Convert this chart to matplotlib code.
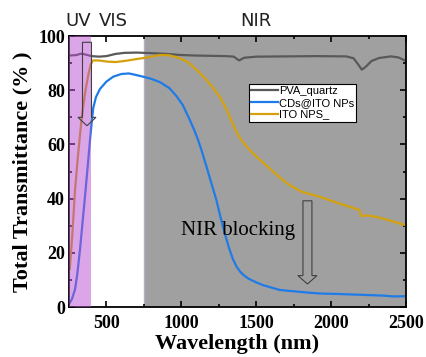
import matplotlib
matplotlib.use("Agg")
import matplotlib.pyplot as plt
from matplotlib.patches import FancyArrow
from matplotlib.ticker import MultipleLocator

# PVA_quartz
pva_wl = [250, 300, 330, 360, 400, 450, 500, 560, 620, 700, 800, 900, 1000, 1100,
          1200, 1300, 1350, 1385, 1420, 1500, 1700, 1900, 2100, 2150, 2180, 2205,
          2230, 2270, 2320, 2400, 2450, 2500]
pva_t = [92.8, 93.0, 93.5, 93.2, 92.6, 92.4, 92.6, 93.4, 93.8, 93.9, 93.7, 93.4, 93.0,
         92.8, 92.7, 92.6, 92.4, 91.0, 92.0, 92.4, 92.5, 92.6, 92.5, 91.8, 89.6, 87.6,
         88.6, 90.8, 91.9, 92.5, 92.1, 90.8]

# CDs@ITO NPs
cds_wl = [255, 270, 290, 305, 323, 340, 357, 375, 390, 402, 412, 430, 457, 500, 545,
          600, 650, 700, 745, 800, 857, 920, 968, 1010, 1057, 1090, 1112, 1134, 1168,
          1200, 1234, 1260, 1290, 1320, 1345, 1370, 1395, 1420, 1450, 1500, 1545, 1600,
          1657, 1750, 1850, 1923, 2050, 2150, 2257, 2350, 2420, 2500]
cds_t = [1.5, 3, 6.5, 12, 21, 31, 41, 52, 61.6, 68.5, 73.5, 77.5, 80.5, 83.2, 85.0,
         86.0, 86.2, 85.6, 85.0, 84.2, 83.0, 80.8, 77.8, 74.5, 69.0, 64.8, 61.6, 58.0,
         51.8, 45.8, 39.5, 33.5, 27.2, 21.5, 17.6, 14.8, 12.9, 11.6, 10.4, 9.1, 8.1, 7.2,
         6.3, 5.8, 5.3, 5.0, 4.8, 4.6, 4.4, 4.2, 3.9, 4.0]

# ITO NPS_
ito_wl = [255, 270, 290, 310, 335, 360, 380, 395, 410, 450, 500, 560, 620, 700, 760,
          857, 920, 990, 1040, 1079, 1120, 1168, 1210, 1257, 1290, 1323, 1350, 1379,
          1401, 1457, 1501, 1580, 1657, 1723, 1800, 1923, 2050, 2190, 2200, 2240, 2300,
          2400, 2490, 2500]
ito_t = [14, 25, 43, 56, 70, 80, 86, 89.5, 91.0, 91.0, 90.6, 90.4, 90.8, 91.5, 92.0,
         93.0, 92.9, 91.8, 90.5, 88.7, 86.6, 83.8, 81.0, 77.6, 74.3, 70.2, 66.8, 63.5,
         61.6, 57.9, 55.5, 51.6, 47.8, 45.0, 42.6, 40.7, 38.3, 35.8, 33.6, 33.8, 33.3,
         31.8, 30.3, 30.0]

serif = "Liberation Serif"

fig = plt.figure(figsize=(4.26, 3.57), dpi=100)
ax = fig.add_axes([0.162, 0.140, 0.791, 0.759])

# spectral regions
ax.axvspan(750, 2500, facecolor="#a0a0a0", edgecolor="#b8aec4", lw=1, zorder=0)
ax.axvspan(250, 400, facecolor="#b84fd0", alpha=0.5, lw=0, zorder=3)

ax.plot(pva_wl, pva_t, color="#595959", lw=1.6, label="PVA_quartz", zorder=2)
ax.plot(cds_wl, cds_t, color="#1e7be8", lw=1.6, label="CDs@ITO NPs", zorder=2)
ax.plot(ito_wl, ito_t, color="#d4a00c", lw=1.6, label="ITO NPS_", zorder=2)

# hollow arrows
for x0, y0, y1, hw in [(370, 97.7, 66.9, 120), (1842, 39.2, 8.5, 127)]:
    ax.add_patch(FancyArrow(x0, y0, 0, y1 - y0, width=60, head_width=hw,
                            head_length=3.1, length_includes_head=True,
                            facecolor="none", edgecolor="#404040", lw=0.8, zorder=4))

ax.text(1000, 26.5, "NIR blocking", family=serif, fontsize=15, ha="left",
        va="baseline", zorder=5)

for x, s in [(310, "UV"), (543, "VIS"), (1500, "NIR")]:
    ax.text(x, 103.8, s, fontsize=13, ha="center", va="baseline", clip_on=False,
            family="DejaVu Sans", color="#222222")

ax.set_xlim(250, 2500)
ax.set_ylim(0, 100)
ax.xaxis.set_major_locator(MultipleLocator(500))
ax.xaxis.set_minor_locator(MultipleLocator(250))
ax.yaxis.set_major_locator(MultipleLocator(20))
ax.yaxis.set_minor_locator(MultipleLocator(10))
ax.tick_params(which="both", direction="in", top=True, right=True, width=1.2)
ax.tick_params(which="major", length=4.5)
ax.tick_params(axis="x", which="major", pad=6)
ax.tick_params(axis="y", which="major", pad=3)
ax.tick_params(which="minor", length=2.5)
for lab in ax.get_xticklabels() + ax.get_yticklabels():
    lab.set_family(serif)
    lab.set_fontweight("bold")
    lab.set_fontsize(13)
for sp in ax.spines.values():
    sp.set_linewidth(1.3)

ax.set_xlabel("Wavelength (nm)", family=serif, fontweight="bold", fontsize=16,
              labelpad=1)
ax.set_ylabel("Total Transmittance (% )", family=serif, fontweight="bold",
              fontsize=16, labelpad=4)

leg = ax.legend(loc="upper left", bbox_to_anchor=(0.534, 0.823), fancybox=False,
                framealpha=1, edgecolor="black", borderpad=0.2, labelspacing=0.15,
                handlelength=2.4, handletextpad=0.1, borderaxespad=0,
                prop={"family": "Liberation Sans", "size": 8})
leg.get_frame().set_linewidth(0.8)
leg.set_zorder(6)

fig.savefig("out.png", dpi=100)
